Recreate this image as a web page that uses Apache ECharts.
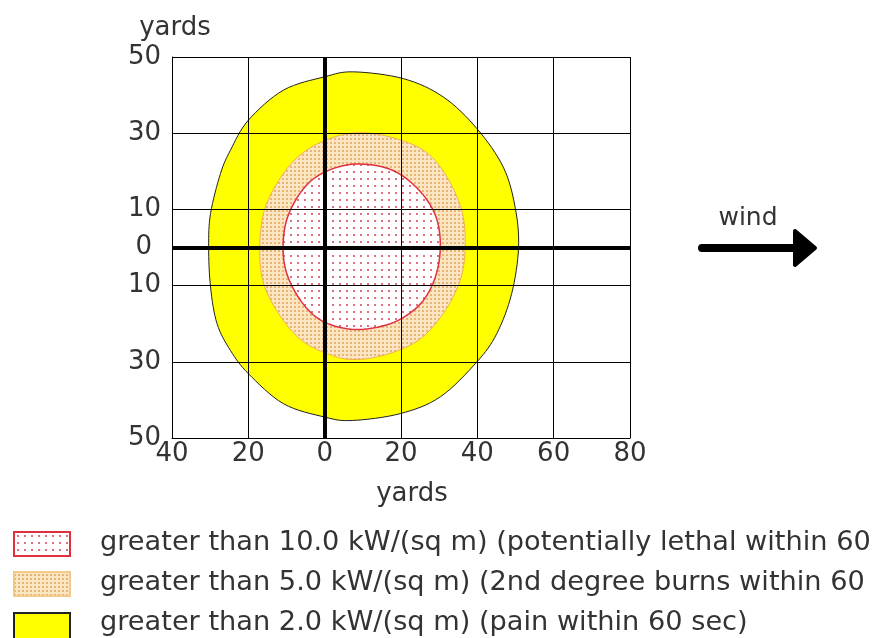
<!DOCTYPE html>
<html>
<head>
<meta charset="utf-8">
<script src="https://cdn.jsdelivr.net/npm/echarts@6/dist/echarts.min.js"></script>
<style>
html,body{margin:0;padding:0;background:#fff;overflow:hidden;}
#chart{width:872px;height:638px;}
</style>
</head>
<body>
<div id="chart"></div>
<script>
// ---- data (yards) ----
const xTicks = [-40, -20, 0, 20, 40, 60, 80];
const yTicks = [-50, -30, -10, 10, 30, 50];

// > 2.0 kW/(sq m) zone boundary
const yellowX = [7.6, 20.7, 31.1, 39.9, 46.8, 49.9, 50.8, 49.0, 45.1, 39.9, 30.3, 19.8, 7.2, 0, -10.8, -20, -24.7, -28.2, -29.9, -30.4, -29.9, -27.3, -24.7, -20, -10.8, 0];
const yellowY = [46.1, 44.3, 39.5, 31.2, 21.1, 10.6, 0, -12.1, -22.6, -30, -39.2, -43.6, -45.4, -44.5, -41, -33.1, -27, -20, -10.4, 0.1, 8.9, 19.4, 25.5, 33.4, 41.3, 44.8];

// > 5.0 kW/(sq m) zone boundary
const orangeX = [8.4, 17.2, 25.9, 31.5, 35.9, 36.8, 35.5, 31.1, 24.5, 15.4, 7, 0.5, -6, -11.5, -16, -17, -15.8, -12, -7, 0];
const orangeY = [30.1, 29, 25.5, 19.4, 9.8, 0, -8.6, -17.3, -24.4, -28.3, -29.4, -27.8, -24.4, -18.2, -9.5, 0, 9.8, 17.6, 23.8, 28.1];

// > 10.0 kW/(sq m) zone boundary
const redX = [8, 17.2, 24.2, 29, 30.3, 28.7, 24.5, 17.2, 8, 0, -5.5, -9.7, -10.9, -9.7, -5.5, 0];
const redY = [21.9, 20.5, 15.6, 8.5, 0, -8.6, -15.4, -20, -21.5, -19.6, -15, -7.5, 0, 8, 15.5, 19.8];

const legendLabels = [
  'greater than 10.0 kW/(sq m) (potentially lethal within 60 sec)',
  'greater than 5.0 kW/(sq m) (2nd degree burns within 60 sec)',
  'greater than 2.0 kW/(sq m) (pain within 60 sec)'
];

// ---- patterns ----
function dotPattern(size, bg, dot, dotSize) {
  const c = document.createElement('canvas');
  c.width = size; c.height = size;
  const g = c.getContext('2d');
  g.fillStyle = bg; g.fillRect(0, 0, size, size);
  g.fillStyle = dot;
  g.fillRect(Math.floor(size / 2), Math.floor(size / 2), dotSize, dotSize);
  return { image: c, repeat: 'repeat' };
}
const redFill = dotPattern(7, '#ffffff', '#e07080', 2);
const orangeFill = dotPattern(4, '#fce5c2', '#e9b575', 2);
const yellowFill = '#ffff00';

const FONT = 'DejaVu Sans';
const TXT = '#333333';
const FS = 26;
const LFS = 27.2;

// closed Catmull-Rom curve through the given pixel points (drawing helper only)
function closedCurve(pts, steps) {
  const n = pts.length, out = [];
  for (let i = 0; i < n; i++) {
    const p0 = pts[(i - 1 + n) % n], p1 = pts[i], p2 = pts[(i + 1) % n], p3 = pts[(i + 2) % n];
    for (let s = 0; s < steps; s++) {
      const t = s / steps, t2 = t * t, t3 = t2 * t;
      const f = (a, b, c, d) => 0.5 * ((2 * b) + (-a + c) * t + (2 * a - 5 * b + 4 * c - d) * t2 + (-a + 3 * b - 3 * c + d) * t3);
      out.push([f(p0[0], p1[0], p2[0], p3[0]), f(p0[1], p1[1], p2[1], p3[1])]);
    }
  }
  return out;
}

function zone(name, xs, ys, fill, stroke, lw, z) {
  return {
    name: name,
    type: 'custom',
    coordinateSystem: 'cartesian2d',
    z: z,
    silent: true,
    data: xs.map((x, i) => [x, ys[i]]),
    encode: { x: 0, y: 1 },
    renderItem: function (params, api) {
      if (params.dataIndex !== 0) return null;
      const pts = xs.map((x, i) => api.coord([x, ys[i]]));
      return {
        type: 'polygon',
        shape: { points: closedCurve(pts, 8) },
        style: { fill: fill, stroke: stroke, lineWidth: lw }
      };
    }
  };
}

const chart = echarts.init(document.getElementById('chart'), null, { renderer: 'canvas' });

const absFmt = v => String(Math.abs(v));

chart.setOption({
  backgroundColor: '#ffffff',
  animation: false,
  grid: { left: 172, right: 242, top: 57, bottom: 200, containLabel: false },
  xAxis: {
    type: 'value', min: xTicks[0], max: xTicks[xTicks.length - 1], interval: 20, z: 10,
    name: 'yards', nameLocation: 'middle', nameGap: 43,
    nameTextStyle: { fontFamily: FONT, fontSize: FS, color: TXT, padding: [0, 0, 0, 22] },
    axisLine: { show: true, onZero: false, lineStyle: { color: '#000', width: 1 } },
    axisTick: { show: false },
    splitLine: { show: true, lineStyle: { color: '#000', width: 1 } },
    axisLabel: { formatter: absFmt, fontFamily: FONT, fontSize: FS, color: TXT, margin: 3 }
  },
  yAxis: {
    type: 'value', min: yTicks[0], max: yTicks[yTicks.length - 1], interval: 20, z: 10,
    name: 'yards', nameLocation: 'end', nameGap: 16,
    nameTextStyle: { fontFamily: FONT, fontSize: FS, color: TXT, align: 'center', padding: [0, 0, 0, 6] },
    axisLine: { show: true, onZero: false, lineStyle: { color: '#000', width: 1 } },
    axisTick: { show: false },
    splitLine: { show: true, lineStyle: { color: '#000', width: 1 } },
    axisLabel: { formatter: absFmt, fontFamily: FONT, fontSize: FS, color: TXT, margin: 11 }
  },
  series: [
    zone('pain', yellowX, yellowY, yellowFill, '#222', 1, 1),
    zone('burns', orangeX, orangeY, orangeFill, '#f0b050', 1, 2),
    zone('lethal', redX, redY, redFill, '#e03040', 1.5, 3),
    {
      type: 'line', data: [], z: 20, silent: true,
      markLine: {
        silent: true, symbol: 'none', animation: false,
        lineStyle: { color: '#000', width: 4, type: 'solid' },
        label: { show: false },
        data: [
          { yAxis: 0, label: { show: true, position: 'start', formatter: '0', distance: 20, fontFamily: FONT, fontSize: FS, color: TXT } },
          { xAxis: 0 }
        ]
      }
    }
  ],
  graphic: [
    // wind arrow
    { type: 'line', shape: { x1: 702, y1: 248, x2: 796, y2: 248 }, style: { stroke: '#000', lineWidth: 8, lineCap: 'round' }, z: 30 },
    { type: 'polygon', shape: { points: [[795, 231], [815, 248], [795, 265]] }, style: { fill: '#000', stroke: '#000', lineWidth: 4, lineJoin: 'round' }, z: 30 },
    { type: 'text', x: 748, y: 218, style: { text: 'wind', font: '25px "' + FONT + '"', fill: TXT, align: 'center', verticalAlign: 'middle' }, z: 30 },
    // legend
    { type: 'rect', shape: { x: 14, y: 532, width: 56, height: 24 }, style: { fill: redFill, stroke: '#e03040', lineWidth: 2 }, z: 30 },
    { type: 'rect', shape: { x: 14, y: 572, width: 56, height: 24 }, style: { fill: orangeFill, stroke: '#f3c98a', lineWidth: 2 }, z: 30 },
    { type: 'rect', shape: { x: 14, y: 613, width: 56, height: 30 }, style: { fill: yellowFill, stroke: '#222', lineWidth: 2 }, z: 30 },
    { type: 'text', x: 100, y: 543, style: { text: legendLabels[0], font: LFS + 'px "' + FONT + '"', fill: TXT, verticalAlign: 'middle' }, z: 30 },
    { type: 'text', x: 100, y: 583, style: { text: legendLabels[1], font: LFS + 'px "' + FONT + '"', fill: TXT, verticalAlign: 'middle' }, z: 30 },
    { type: 'text', x: 100, y: 623, style: { text: legendLabels[2], font: LFS + 'px "' + FONT + '"', fill: TXT, verticalAlign: 'middle' }, z: 30 }
  ]
});
</script>
</body>
</html>
